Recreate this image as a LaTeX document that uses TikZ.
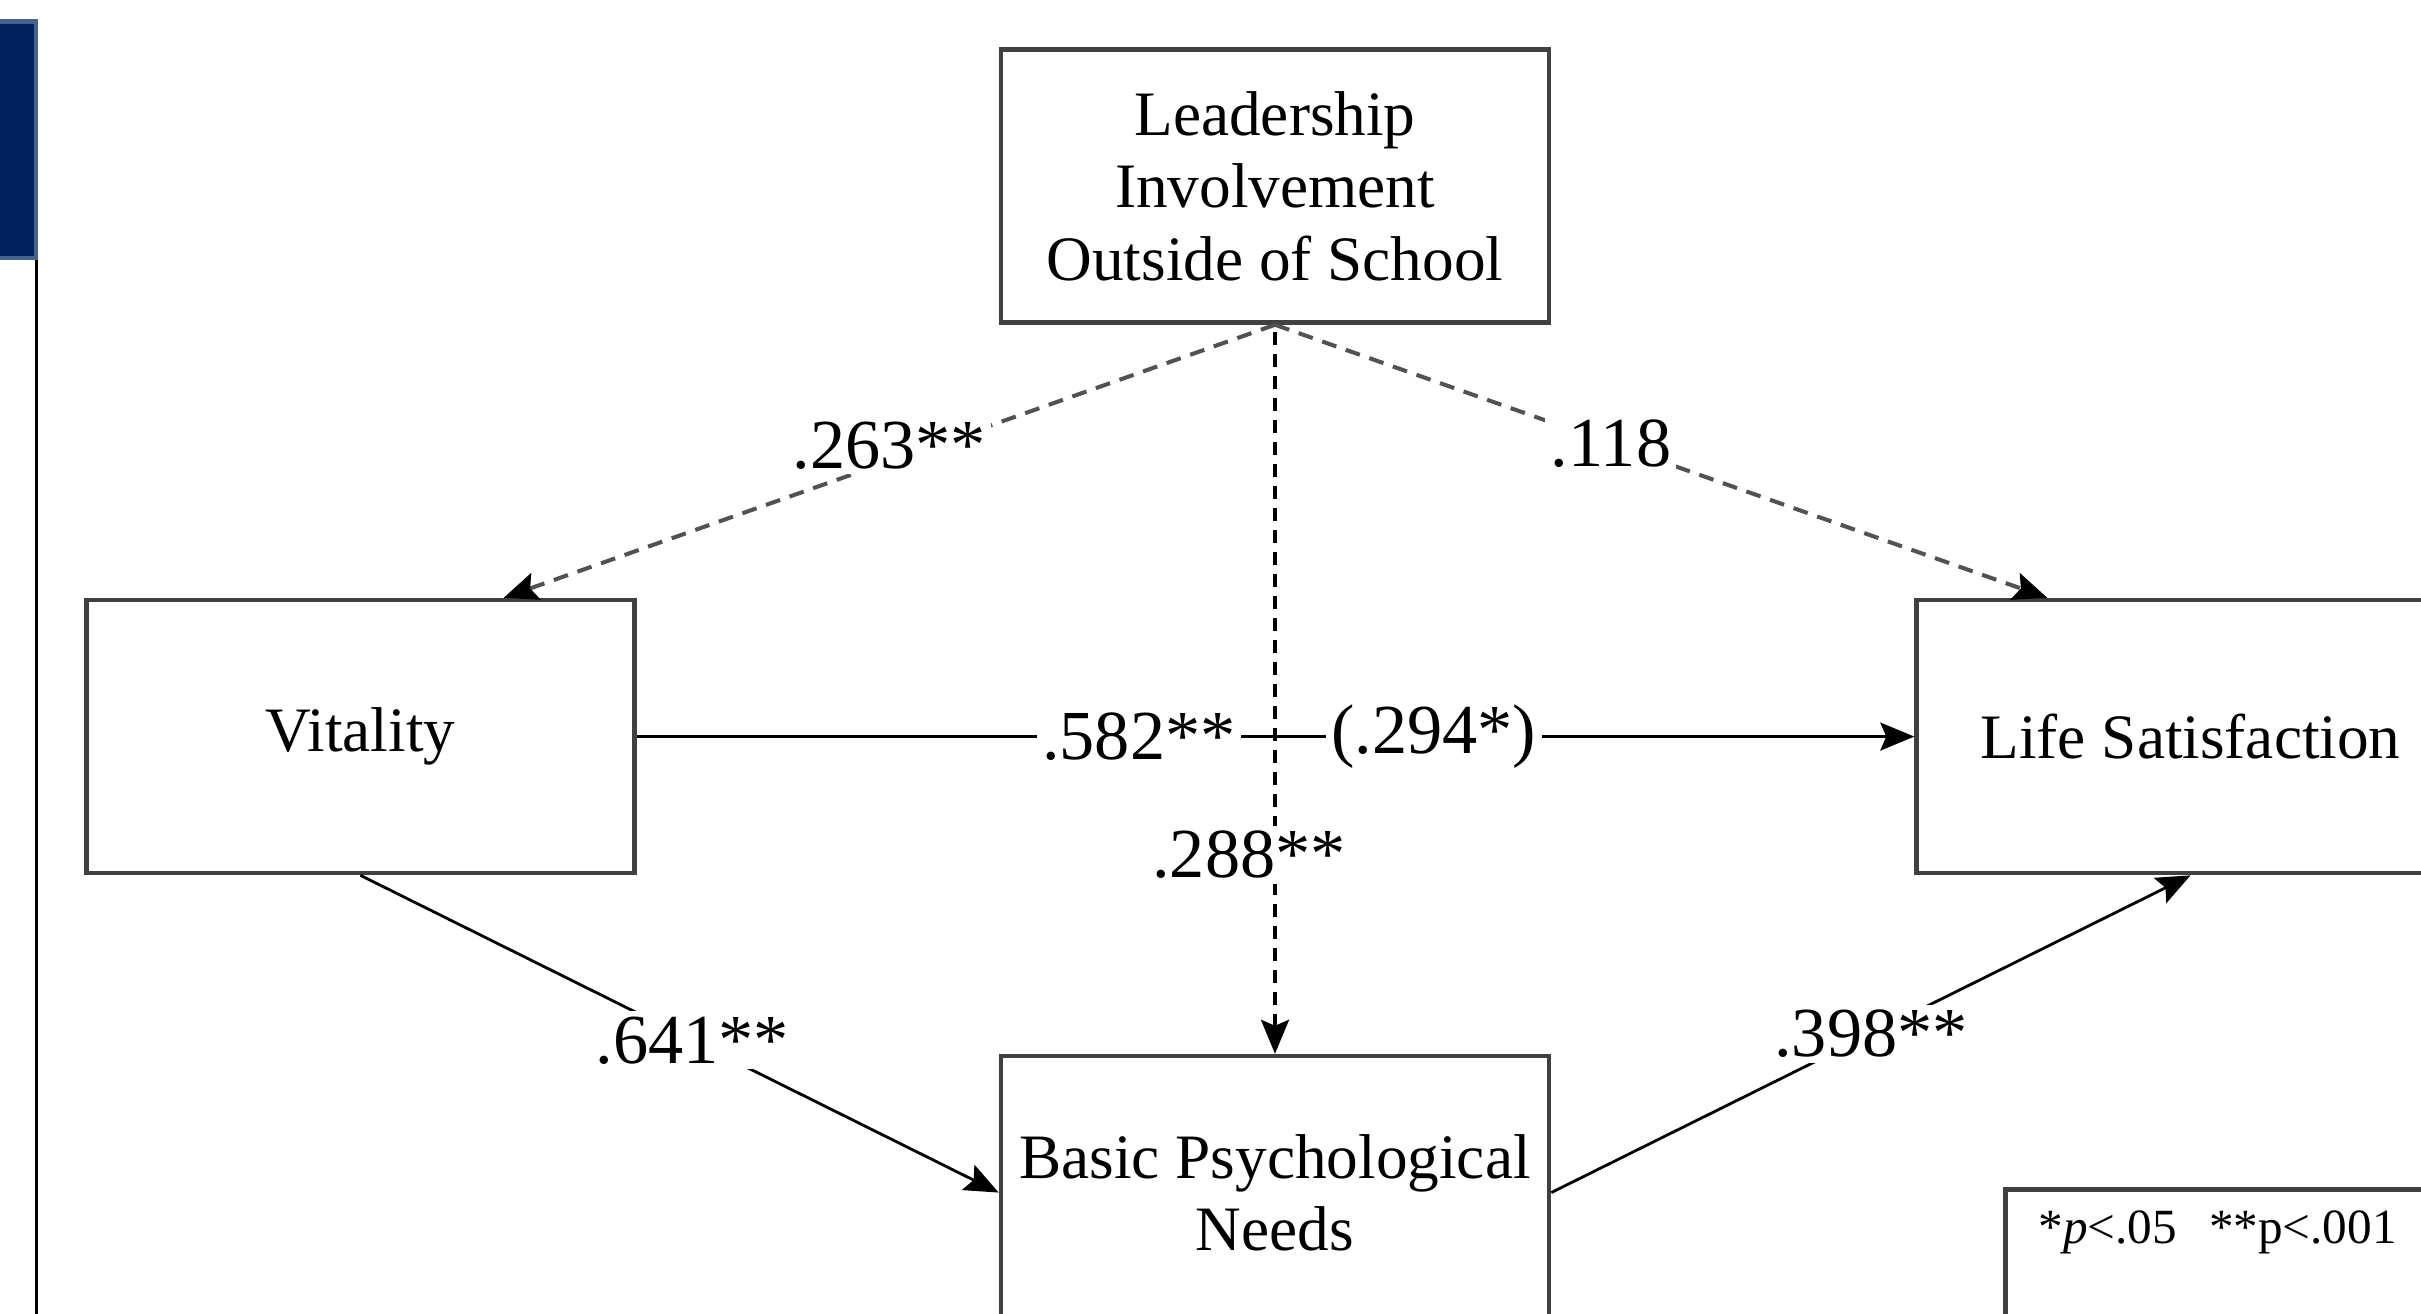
\documentclass[tikz,border=0pt]{standalone}
\usepackage{fontspec}
\setmainfont{Liberation Serif}
\usetikzlibrary{arrows.meta,positioning}
\definecolor{slidenavy}{HTML}{03215E}
\definecolor{slideedge}{HTML}{45638F}
\tikzset{
    varbox/.style={rectangle, draw=black!75, line width=1.3pt, minimum width=5.48cm, minimum height=2.73cm, inner sep=0pt, align=center, font=\fontsize{18}{20.6}\selectfont},
    lbl/.style={fill=white, inner sep=1.5pt, font=\fontsize{20}{24}\selectfont},
    pil/.style={>={Stealth[length=3.4mm, width=2.8mm, inset=0.6mm]}, ->, line width=0.8pt},
    dashpil/.style={>={Stealth[length=3.4mm, width=2.8mm, inset=0.6mm, color=black]}, ->, draw=black!68, line width=1.15pt, dash pattern=on 1.5mm off 1mm},
    dotpil/.style={pil, line width=0.9pt, dash pattern=on 1.3mm off 0.9mm},
    legendbox/.style={rectangle, draw=black!75, line width=1.3pt, minimum width=5cm, minimum height=2cm},
    legendtext/.style={inner sep=0pt, font=\fontsize{14}{16}\selectfont}
}
\begin{document}
\begin{tikzpicture}
    \useasboundingbox (0,0) rectangle (24.21,-13.14);
    \clip (0,0) rectangle (24.21,-13.14);
    % slide edge
    \draw[draw=slideedge, fill=slidenavy, line width=1.3pt] (-0.2,-0.215) rectangle (0.36,-2.58);
    \draw[line width=0.7pt] (0.367,-2.60) -- (0.367,-13.14);

    \node[varbox] (leader) at (12.75,-1.86)
      {Leadership\\Involvement\\Outside of School};
    \node[varbox, below left=2.73cm and 3.62cm of leader] (vitality)
      {Vitality};
    \node[varbox, below right=2.73cm and 3.63cm of leader] (life)
      {Life Satisfaction}
      edge[pil, <-] node[lbl, pos=.607] {.582**} node[lbl, pos=.376] {(.294*)} (vitality.east);
    \node[varbox, below=7.29cm of leader] (basic)
      {Basic Psychological\\Needs}
      edge[dotpil, <-] node[lbl, pos=.273, xshift=-2.6mm] {.288**} (leader.south);

    \draw[dashpil] (leader.south) -- node[lbl, yshift=1.6mm] {.263**} ([xshift=-1.33cm]vitality.north east);
    \draw[dashpil] (leader.south) -- node[lbl, pos=.435] {.118} ([xshift=1.33cm]life.north west);
    \draw[pil] (vitality.south) -- node[lbl, pos=.52] {.641**} (basic.west);
    \draw[pil] (basic.east) -- node[lbl] {.398**} (life.south);

    % legend
    \node[legendbox, anchor=north west] (legend) at (20.03,-11.87) {};
    \node[legendtext, anchor=base west] (legendtext) at (20.38,-12.43)
      {*\textit{p}<.05\hspace{0.65em}**p<.001};
\end{tikzpicture}
\end{document}
